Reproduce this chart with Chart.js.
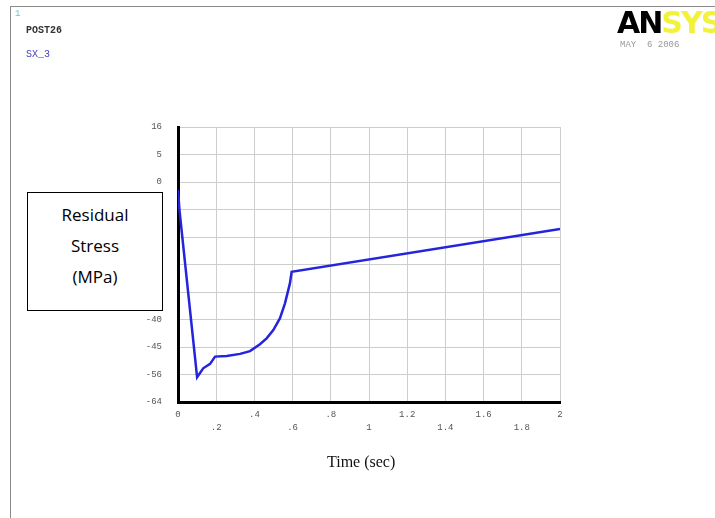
<!DOCTYPE html>
<html>
<head>
<meta charset="utf-8">
<script src="https://cdn.jsdelivr.net/npm/chart.js@4"></script>
<style>
  body { margin: 0; background: #fff; }
  #wrap { position: relative; width: 715px; height: 518px; overflow: hidden; }
  #frame { position: absolute; left: 10px; top: 6px; width: 720px; height: 520px; border-left: 1px solid #8a8a8a; border-top: 1px solid #8a8a8a; }
  .txt { position: absolute; white-space: nowrap; }
  .mono { font-family: "Liberation Mono", monospace; font-size: 10px; }
  #legendBox { position: absolute; left: 27px; top: 192px; width: 136px; height: 119px; background: #fff; border: 1.5px solid #000;
    font-family: "Open Sans", sans-serif; font-size: 17px; line-height: 31px; text-align: center; padding-top: 6px; box-sizing: border-box; }
</style>
</head>
<body>
<div id="wrap">
  <canvas id="chart" width="715" height="518"></canvas>
  <div id="frame"></div>
  <div class="txt mono" style="left:15px; top:9px; color:#5fc8c8; font-size:9px;">1</div>
  <div class="txt mono" style="left:26px; top:25px; color:#333; font-weight:bold;">POST26</div>
  <div class="txt mono" style="left:26px; top:49px; color:#4040c0;">SX_3</div>
  <div class="txt" style="left:617px; top:5px; font-family:'DejaVu Sans',sans-serif; font-size:30px; font-weight:bold; letter-spacing:-2px;"><span style="color:#000;">AN</span><span style="color:#f2f23a;">SYS</span></div>
  <div class="txt mono" style="left:620px; top:40px; color:#999; font-size:9px;">MAY&nbsp;&nbsp;6 2006</div>
  <div id="legendBox">Residual<br>Stress<br>(MPa)</div>
  <div class="txt" style="left:327px; top:453px; font-family:'Liberation Serif',serif; font-size:16px; color:#111;">Time (sec)</div>
</div>
<script>
// time (sec) and residual stress values
const timeValues   = [0, 0.008, 0.1, 0.132, 0.168, 0.194, 0.255, 0.325, 0.377, 0.429, 0.464, 0.499, 0.534, 0.56, 0.586, 0.595, 2.0];
const stressValues = [-2.3, -8.3, -56.8, -54.2, -52.9, -50.8, -50.6, -50.0, -49.2, -47.2, -45.5, -43.1, -39.6, -35.3, -29.5, -26.1, -13.7];

// tick labels as printed by ANSYS (x staggered over two rows)
const xTickLabels = ['0', '.2', '.4', '.6', '.8', '1', '1.2', '1.4', '1.6', '1.8', '2'];
const yTickLabels = ['-64', '-56', '-45', '-40', '', '', '', '', '0', '5', '16'];

const points = timeValues.map((t, i) => ({ x: t, y: stressValues[i] }));

new Chart(document.getElementById('chart'), {
    type: 'line',
    data: {
        datasets: [{
            data: points,
            borderColor: '#2424dc',
            borderWidth: 2.5,
            pointRadius: 0,
            tension: 0,
            fill: false
        }]
    },
    options: {
        responsive: false,
        animation: false,
        layout: { padding: { left: 0, right: 155, top: 127, bottom: 0 } },
        plugins: { legend: { display: false }, tooltip: { enabled: false } },
        scales: {
            x: {
                type: 'linear',
                min: 0, max: 2,
                afterFit: (s) => { s.height = 116; },
                grid: { color: '#cdcdcd', lineWidth: 1, drawTicks: false },
                border: { color: '#000', width: 3 },
                ticks: {
                    stepSize: 0.2,
                    padding: 6,
                    maxRotation: 0,
                    autoSkip: false,
                    color: '#555',
                    font: { family: 'Liberation Mono', size: 9, lineHeight: 1.45 },
                    // alternate labels go on the second row
                    callback: (v, i) => i % 2 === 0 ? [xTickLabels[i], ''] : ['', xTickLabels[i]]
                }
            },
            y: {
                min: -64, max: 16,
                afterFit: (s) => { s.width = 178; },
                grid: { color: '#cdcdcd', lineWidth: 1, drawTicks: false },
                border: { color: '#000', width: 3 },
                ticks: {
                    stepSize: 8,
                    padding: 16,
                    autoSkip: false,
                    color: '#555',
                    font: { family: 'Liberation Mono', size: 9 },
                    callback: (v, i) => yTickLabels[i]
                }
            }
        }
    }
});
</script>
</body>
</html>
